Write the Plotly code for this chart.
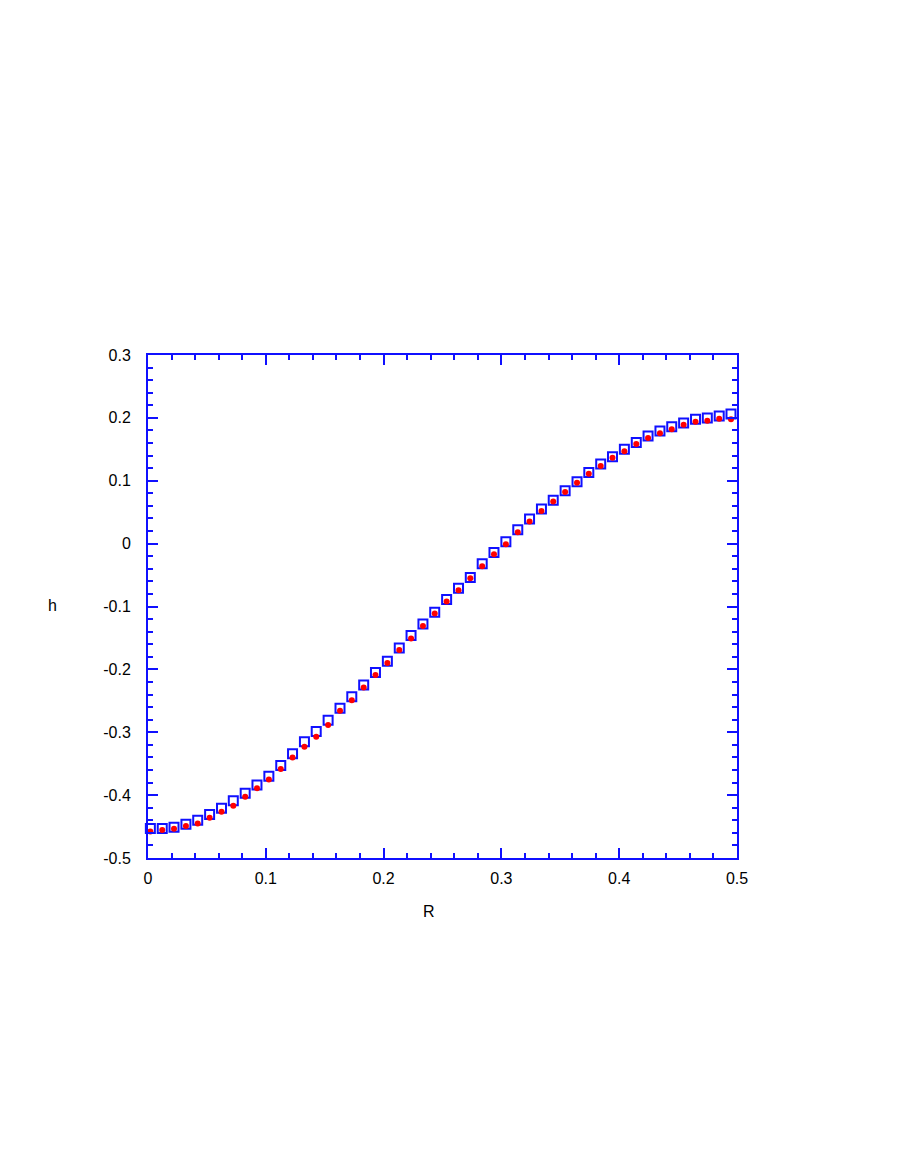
import plotly.graph_objects as go

R = [0.002, 0.0121, 0.0221, 0.0322, 0.0422, 0.0523, 0.0624, 0.0724, 0.0825, 0.0925,
     0.1026, 0.1127, 0.1227, 0.1328, 0.1428, 0.1529, 0.163, 0.173, 0.1831, 0.1931,
     0.2032, 0.2133, 0.2233, 0.2334, 0.2434, 0.2535, 0.2636, 0.2736, 0.2837, 0.2937,
     0.3038, 0.3139, 0.3239, 0.334, 0.344, 0.3541, 0.3642, 0.3742, 0.3843, 0.3943,
     0.4044, 0.4145, 0.4245, 0.4346, 0.4446, 0.4547, 0.4648, 0.4748, 0.4849, 0.4949]

h_squares = [-0.453, -0.453, -0.451, -0.4465, -0.440, -0.431, -0.421, -0.409, -0.397, -0.384,
             -0.370, -0.353, -0.334, -0.315, -0.299, -0.281, -0.262, -0.2435, -0.225, -0.205,
             -0.187, -0.166, -0.146, -0.128, -0.109, -0.089, -0.071, -0.054, -0.032, -0.014,
             0.003, 0.022, 0.039, 0.055, 0.069, 0.084, 0.0985, 0.113, 0.1266, 0.138,
             0.150, 0.161, 0.171, 0.179, 0.186, 0.192, 0.198, 0.200, 0.203, 0.206]

h_dots = [-0.458, -0.4555, -0.4535, -0.449, -0.445, -0.436, -0.4265, -0.417, -0.4025, -0.389,
          -0.375, -0.3585, -0.340, -0.323, -0.307, -0.2885, -0.266, -0.249, -0.229, -0.209,
          -0.190, -0.169, -0.151, -0.131, -0.111, -0.092, -0.074, -0.055, -0.036, -0.017,
          -0.001, 0.018, 0.035, 0.052, 0.067, 0.082, 0.097, 0.111, 0.1235, 0.1367,
          0.147, 0.1585, 0.168, 0.1755, 0.182, 0.189, 0.194, 0.1955, 0.1985, 0.198]

x_ticks = [0, 0.1, 0.2, 0.3, 0.4, 0.5]
x_tick_labels = ["0", "0.1", "0.2", "0.3", "0.4", "0.5"]
y_ticks = [-0.5, -0.4, -0.3, -0.2, -0.1, 0, 0.1, 0.2, 0.3]
y_tick_labels = ["-0.5", "-0.4", "-0.3", "-0.2", "-0.1", "0", "0.1", "0.2", "0.3"]

BLUE = "#1010ff"
RED = "#ff0000"
FONT = "Liberation Sans, Arial, Helvetica, sans-serif"
FS = 16

fig = go.Figure()
fig.add_trace(go.Scatter(
    x=R, y=h_squares, mode="markers", cliponaxis=False,
    marker=dict(symbol="square-open", size=9, color=BLUE, line=dict(width=2, color=BLUE)),
    showlegend=False,
))
fig.add_trace(go.Scatter(
    x=R, y=h_dots, mode="markers", cliponaxis=False,
    marker=dict(symbol="circle", size=6, color=RED, line=dict(width=0)),
    showlegend=False,
))

axis_common = dict(
    showgrid=False, zeroline=False, showline=True, linecolor=BLUE, linewidth=2,
    mirror="allticks", ticks="inside", tickcolor=BLUE, tickwidth=1.5, ticklen=10,
    tickfont=dict(family=FONT, size=FS, color="black"),
    minor=dict(ticks="inside", ticklen=5, tickcolor=BLUE, tickwidth=1.5, dtick=0.02),
)

fig.update_xaxes(range=[0, 0.5], tickvals=x_ticks, ticktext=x_tick_labels,
                 ticklabelstandoff=5, **axis_common)
fig.update_yaxes(range=[-0.5, 0.3], tickvals=y_ticks, ticktext=y_tick_labels,
                 ticklabelstandoff=12, **axis_common)

# target plot-area pixel box on the page (page has an 8px body margin)
OFF = 8
plot_l, plot_r, plot_t, plot_b = 148, 737, 355, 858
W, H = 900, 1164
pw, ph = plot_r - plot_l, plot_b - plot_t

fig.add_annotation(text="h", x=(52.5 - plot_l) / pw, y=(plot_b - 605) / ph,
                   xref="paper", yref="paper", showarrow=False,
                   xanchor="center", yanchor="middle",
                   font=dict(family=FONT, size=FS, color="black"))
fig.add_annotation(text="R", x=(429 - plot_l) / pw, y=(plot_b - 911) / ph,
                   xref="paper", yref="paper", showarrow=False,
                   xanchor="center", yanchor="middle",
                   font=dict(family=FONT, size=FS, color="black"))

fig.update_layout(
    width=W, height=H,
    margin=dict(l=plot_l - OFF, r=W - plot_r + OFF, t=plot_t - OFF, b=H - plot_b + OFF, pad=0),
    plot_bgcolor="white", paper_bgcolor="white",
    font=dict(family=FONT, size=FS, color="black"),
)

fig.write_html("out.html")
